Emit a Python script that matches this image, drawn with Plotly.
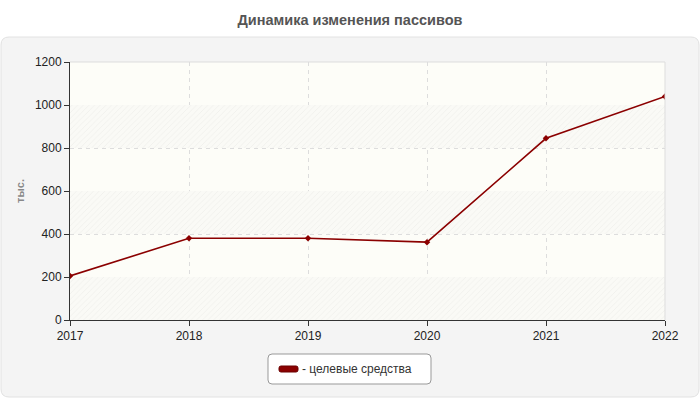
import plotly.graph_objects as go

years = [2017, 2018, 2019, 2020, 2021, 2022]
values = [205, 380, 380, 362, 845, 1040]
series_name = "целевые средства"
title_text = "Динамика изменения пассивов"
y_label = "тыс."
y_ticks = [0, 200, 400, 600, 800, 1000, 1200]
hatched_bands = [(0, 200), (400, 600), (800, 1000)]

W, H = 700, 400
L, R, T, B = 70, 35, 62, 80
pw, ph = W - L - R, H - T - B

def px(x):
    return (x - L) / pw

def py(y):
    return (H - B - y) / ph

def rrect(x0, y0, x1, y1, r):
    X0, X1 = px(x0), px(x1)
    Y0, Y1 = py(y0), py(y1)
    rx, ry = r / pw, r / ph
    return (f"M {X0+rx},{Y0} L {X1-rx},{Y0} Q {X1},{Y0} {X1},{Y0-ry} "
            f"L {X1},{Y1+ry} Q {X1},{Y1} {X1-rx},{Y1} L {X0+rx},{Y1} "
            f"Q {X0},{Y1} {X0},{Y1+ry} L {X0},{Y0-ry} Q {X0},{Y0} {X0+rx},{Y0} Z")

FONT = "Liberation Sans, Arial"

fig = go.Figure()

for lo, hi in hatched_bands:
    fig.add_trace(go.Scatter(
        x=[years[0], years[-1], years[-1], years[0], years[0]],
        y=[lo, lo, hi, hi, lo],
        mode="none", fill="toself", fillcolor="rgba(0,0,0,0)",
        fillpattern=dict(shape="/", bgcolor="#fafaf6", fgcolor="#e4e4e0", size=4, solidity=0.2),
        hoverinfo="skip", showlegend=False))

fig.add_trace(go.Scatter(
    x=years, y=values, mode="lines+markers", name=series_name,
    line=dict(color="#8b0000", width=1.6),
    marker=dict(symbol="diamond", size=5, color="#8b0000"),
    showlegend=False))

shapes = [
    dict(type="path", xref="paper", yref="paper", path=rrect(1, 37, 699, 397, 8),
         fillcolor="#f4f4f4", line=dict(color="#e2e2e2", width=1), layer="below"),
    dict(type="rect", xref="paper", yref="paper", x0=0, y0=0, x1=1, y1=1,
         fillcolor="#fdfdf8", line=dict(width=0), layer="below"),
    dict(type="line", xref="paper", yref="paper", x0=0, y0=1, x1=1, y1=1,
         line=dict(color="#dddddd", width=1)),
    dict(type="line", xref="paper", yref="paper", x0=1, y0=0, x1=1, y1=1,
         line=dict(color="#dddddd", width=1)),
    dict(type="path", xref="paper", yref="paper", path=rrect(268, 354, 431, 384, 4),
         fillcolor="#ffffff", line=dict(color="#999999", width=1), layer="above"),
    dict(type="path", xref="paper", yref="paper", path=rrect(279, 366, 298, 372, 2),
         fillcolor="#8b0000", line=dict(color="#6a0000", width=1), layer="above"),
]

annotations = [
    dict(xref="paper", yref="paper", x=px(20), y=py(191), text="<b>" + y_label + "</b>", textangle=-90,
         showarrow=False, font=dict(family=FONT, size=11, color="#888888"),
         xanchor="center", yanchor="middle"),
    dict(xref="paper", yref="paper", x=px(300), y=py(369), text="- " + series_name,
         showarrow=False, font=dict(family=FONT, size=12, color="#333333"),
         xanchor="left", yanchor="middle"),
]

fig.update_layout(
    width=W, height=H,
    margin=dict(l=L, r=R, t=T, b=B),
    paper_bgcolor="white", plot_bgcolor="rgba(0,0,0,0)",
    title=dict(text="<b>" + title_text + "</b>", x=0.5, xref="container", xanchor="center",
               y=1 - 20 / H, yref="container", yanchor="middle",
               font=dict(family=FONT, size=14.5, color="#555555")),
    shapes=shapes, annotations=annotations,
    showlegend=False,
    xaxis=dict(range=[years[0], years[-1]], tickvals=years, ticktext=[str(y) for y in years],
               showgrid=True, gridcolor="#dddddd", griddash="4px,4px", gridwidth=1,
               showline=True, linecolor="#333333", linewidth=1,
               ticks="outside", ticklen=5, tickcolor="#333333",
               tickfont=dict(family=FONT, size=12, color="#222222"),
               zeroline=False, fixedrange=True),
    yaxis=dict(range=[0, 1200], tickvals=y_ticks,
               showgrid=True, gridcolor="#dddddd", griddash="4px,4px", gridwidth=1,
               showline=True, linecolor="#333333", linewidth=1,
               ticks="outside", ticklen=5, tickcolor="#333333",
               tickfont=dict(family=FONT, size=12, color="#222222"),
               zeroline=False, fixedrange=True),
)

fig.write_html("out.html")
